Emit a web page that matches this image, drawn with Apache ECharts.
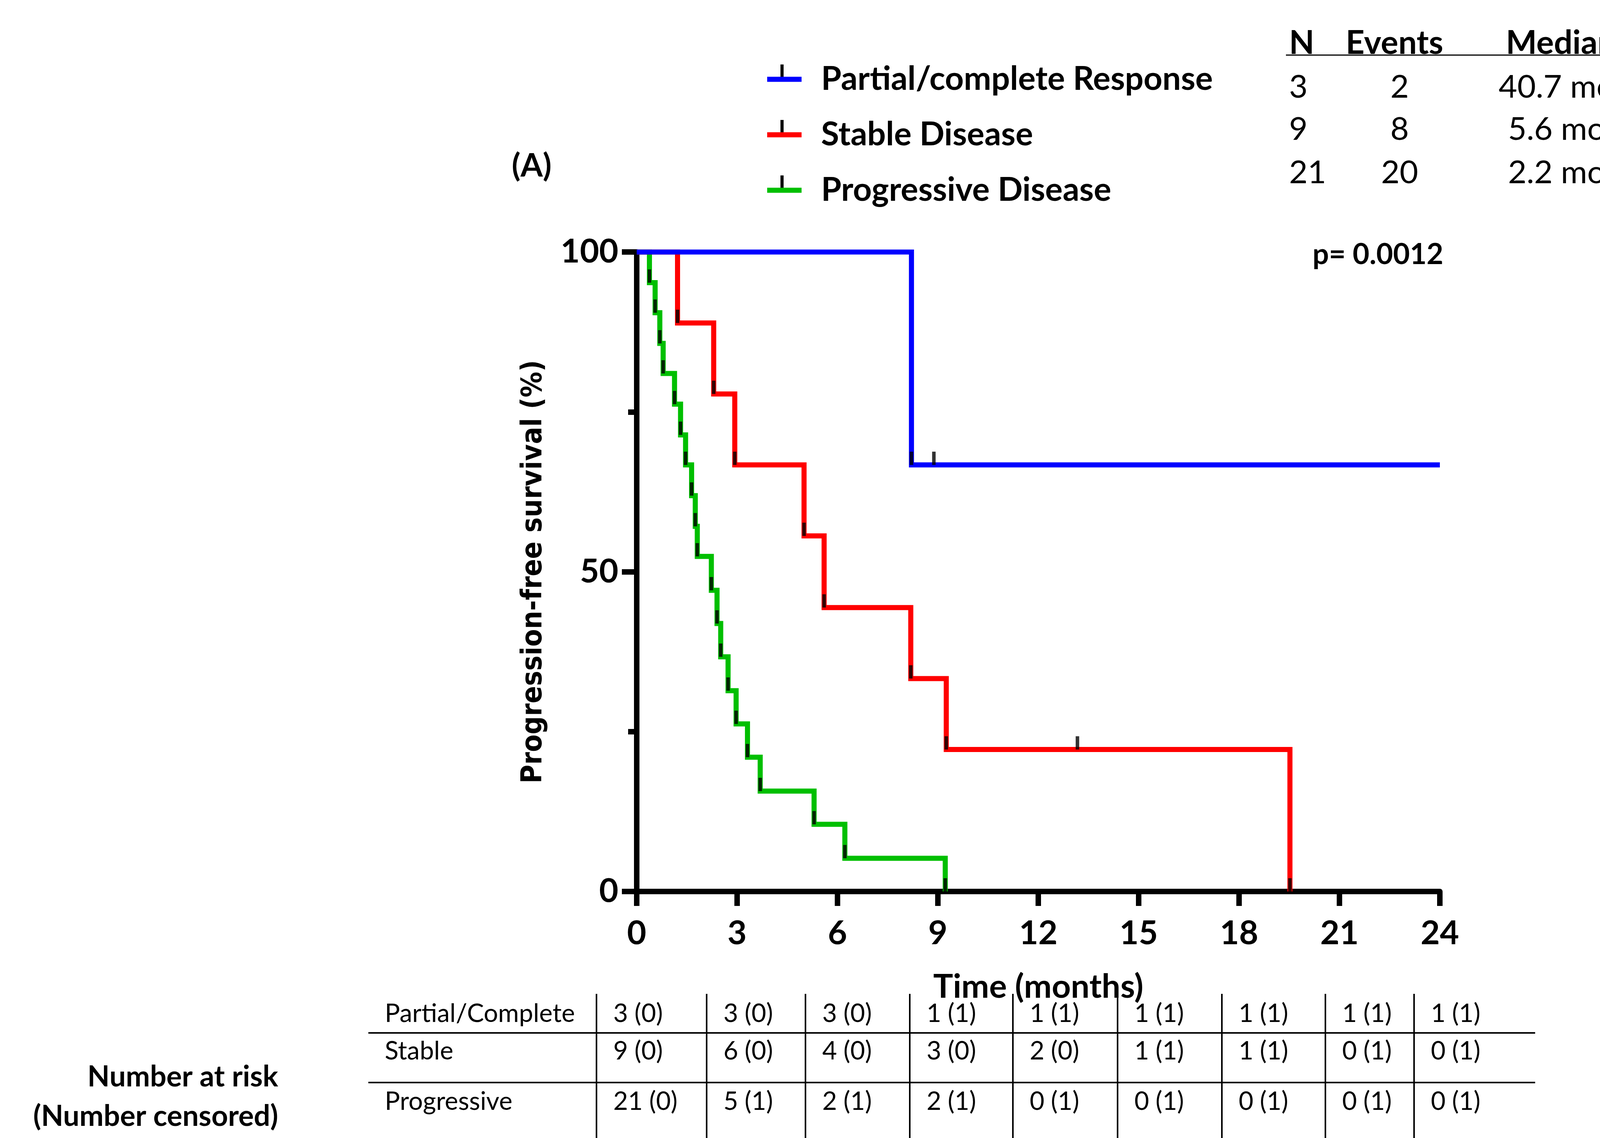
<!DOCTYPE html>
<html>
<head>
<meta charset="utf-8">
<script src="https://cdn.jsdelivr.net/npm/echarts@6/dist/echarts.min.js"></script>
<style>
  html, body { margin: 0; padding: 0; background: #fff; }
  #app { width: 4321px; height: 2913px; }
</style>
</head>
<body>
<div id="app"></div>
<script>
// Kaplan-Meier steps: [months, % progression-free]
const responsePoints = [[0, 100], [8.21, 66.7], [24, 66.7]];
const stablePoints = [[0, 100], [1.22, 88.9], [2.30, 77.8], [2.93, 66.7], [5.0, 55.6],
  [5.6, 44.4], [8.19, 33.3], [9.25, 22.2], [19.52, 0]];
const progressivePoints = [[0, 100], [0.38, 95.2], [0.55, 90.5], [0.69, 85.7], [0.79, 81.0],
  [1.13, 76.2], [1.31, 71.4], [1.46, 66.7], [1.64, 61.9], [1.75, 57.1], [1.81, 52.4],
  [2.23, 47.1], [2.40, 41.9], [2.51, 36.7], [2.73, 31.4], [2.97, 26.2], [3.31, 21.0],
  [3.69, 15.7], [5.30, 10.5], [6.22, 5.2], [9.22, 0]];

// censored observations (tick above the curve)
const responseCensored = [[8.88, 66.7]];
const stableCensored = [[13.17, 22.2]];
const progressiveCensored = [];

const groupNames = ["Partial/complete Response", "Stable Disease", "Progressive Disease"];
const groupColors = ["#0000ff", "#ff0000", "#00bf00"];

const xTicks = [0, 3, 6, 9, 12, 15, 18, 21, 24];
const yTicks = [0, 50, 100];

// summary table, top right
const statsHeader = ["N", "Events", "Median PFS"];
const statsN = ["3", "9", "21"];
const statsEvents = ["2", "8", "20"];
const statsMedian = ["40.7 months", "5.6 months", "2.2 months"];
const pValueText = "p= 0.0012";

// number at risk table
const riskGroups = ["Partial/Complete", "Stable", "Progressive"];
const riskResponse = ["3 (0)", "3 (0)", "3 (0)", "1 (1)", "1 (1)", "1 (1)", "1 (1)", "1 (1)", "1 (1)"];
const riskStable = ["9 (0)", "6 (0)", "4 (0)", "3 (0)", "2 (0)", "1 (1)", "1 (1)", "0 (1)", "0 (1)"];
const riskProgressive = ["21 (0)", "5 (1)", "2 (1)", "2 (1)", "0 (1)", "0 (1)", "0 (1)", "0 (1)", "0 (1)"];

// page layout (pixels)
const FONT = "Lato";
const riskColX = [1527, 1809, 2062, 2329, 2593, 2861, 3128, 3393, 3620];
const riskRowY = [2595, 2691, 2820];
const riskRuleY = [2644, 2771];
const statsRowY = [224, 332, 443];
const legendRowY = [198, 340, 482];

function drops(points) {
  // every step down gets a small black tick, like the Prism plot
  return points.filter((p, i) => i > 0 && p[1] < points[i - 1][1]);
}

function txt(text, x, y, size, weight, align) {
  return {
    type: "text", x: x, y: y, silent: true,
    style: {
      text: text, fill: "#000", fontFamily: FONT, fontSize: size,
      fontWeight: weight, align: align || "left", verticalAlign: "middle"
    }
  };
}

function hline(x1, x2, y, w) {
  return { type: "line", silent: true, shape: { x1: x1, y1: y, x2: x2, y2: y }, style: { stroke: "#000", lineWidth: w } };
}
function vline(x, y1, y2, w) {
  return { type: "line", silent: true, shape: { x1: x, y1: y1, x2: x, y2: y2 }, style: { stroke: "#000", lineWidth: w } };
}

function buildGraphic() {
  const g = [];
  g.push(txt("(A)", 1310, 426, 82, "bold"));
  g.push(txt(pValueText, 3695, 652, 74, "bold", "right"));

  // legend ticks on the swatches
  legendRowY.forEach(y => {
    g.push({ type: "rect", silent: true, shape: { x: 1998, y: y - 33, width: 8, height: 33 }, style: { fill: "#000" } });
  });

  // stats header
  g.push(txt(statsHeader[0], 3300, 111, 84, "bold"));
  g.push(txt(statsHeader[1], 3445, 111, 84, "bold"));
  g.push(txt(statsHeader[2], 3855, 111, 84, "bold"));
  g.push(hline(3292, 4300, 141, 3));
  statsRowY.forEach((y, i) => {
    g.push(txt(statsN[i], 3300, y, 82, "normal"));
    g.push(txt(statsEvents[i], 3583, y, 82, "normal", "center"));
    g.push(txt(statsMedian[i], 4063, y, 82, "normal", "center"));
  });

  // number at risk table
  riskColX.forEach(x => g.push(vline(x, 2544, 2913, 4)));
  riskRuleY.forEach(y => g.push(hline(943, 3930, y, 4)));
  const rows = [riskResponse, riskStable, riskProgressive];
  rows.forEach((row, r) => {
    g.push(txt(riskGroups[r], 985, riskRowY[r], 65, "normal"));
    row.forEach((cell, c) => g.push(txt(cell, riskColX[c] + 43, riskRowY[r], 65, "normal")));
  });
  g.push(txt("Number at risk", 712, 2757, 74, "bold", "right"));
  g.push(txt("(Number censored)", 712, 2858, 74, "bold", "right"));
  return g;
}

function curve(name, color, points, z) {
  return {
    name: name, type: "line", step: "end", data: points,
    showSymbol: false, symbol: "none", silent: true, z: z,
    lineStyle: { color: color, width: 13, cap: "butt", join: "miter" },
    itemStyle: { color: color }
  };
}

function ticks(points, censored) {
  return {
    type: "scatter", data: drops(points).concat(censored), silent: true, z: 10,
    symbol: "rect", symbolSize: [9, 34], symbolOffset: [0, "-50%"],
    itemStyle: { color: "#000" }
  };
}

const chart = echarts.init(document.getElementById("app"), null, { renderer: "canvas" });
chart.setOption({
  backgroundColor: "#fff",
  animation: false,
  textStyle: { fontFamily: FONT, color: "#000" },
  grid: { left: 1630, right: 635, top: 645, bottom: 631, containLabel: false },
  legend: {
    orient: "vertical", left: 1959, top: 156, itemGap: 58,
    itemWidth: 88, itemHeight: 13, icon: "rect",
    selectedMode: false,
    data: groupNames,
    textStyle: { fontFamily: FONT, fontSize: 84, fontWeight: "bold", color: "#000", padding: [0, 0, 0, 45] }
  },
  xAxis: {
    type: "value", min: xTicks[0], max: xTicks[xTicks.length - 1], interval: 3,
    name: "Time (months)", nameLocation: "middle", nameGap: 202,
    nameTextStyle: { fontFamily: FONT, fontSize: 85, fontWeight: "bold", color: "#000" },
    axisLine: { lineStyle: { color: "#000", width: 14 } },
    axisTick: { length: 37, lineStyle: { color: "#000", width: 14 } },
    axisLabel: { margin: 65, fontFamily: FONT, fontSize: 85, fontWeight: "bold", color: "#000" },
    splitLine: { show: false }
  },
  yAxis: {
    type: "value", min: yTicks[0], max: yTicks[yTicks.length - 1], interval: 50,
    name: "Progression-free survival (%)", nameLocation: "middle", nameGap: 226,
    nameTextStyle: { fontFamily: "'DejaVu Sans Condensed', 'DejaVu Sans'", fontSize: 73, fontWeight: "bold", color: "#000" },
    axisLine: { show: true, lineStyle: { color: "#000", width: 14 } },
    axisTick: { show: true, length: 38, lineStyle: { color: "#000", width: 14 } },
    minorTick: { show: true, splitNumber: 2, length: 22, lineStyle: { color: "#000", width: 14 } },
    axisLabel: { margin: 47, fontFamily: FONT, fontSize: 85, fontWeight: "bold", color: "#000" },
    splitLine: { show: false }
  },
  series: [
    curve(groupNames[2], groupColors[2], progressivePoints, 2),
    curve(groupNames[1], groupColors[1], stablePoints, 3),
    curve(groupNames[0], groupColors[0], responsePoints, 4),
    ticks(progressivePoints, progressiveCensored),
    ticks(stablePoints, stableCensored),
    ticks(responsePoints, responseCensored)
  ],
  graphic: buildGraphic()
});
window.onresize = function () { chart.resize(); };
</script>
</body>
</html>
